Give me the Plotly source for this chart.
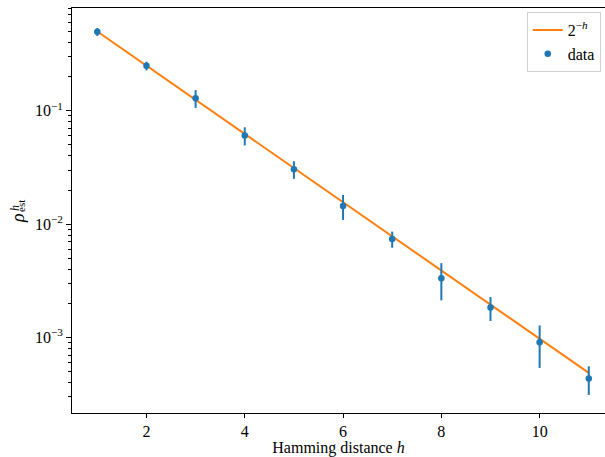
import plotly.graph_objects as go

h = [1, 2, 3, 4, 5, 6, 7, 8, 9, 10, 11]
rho_est = [0.497, 0.249, 0.129, 0.0605, 0.0305, 0.0145, 0.0074, 0.00333, 0.00184, 0.00091, 0.000435]
rho_err = [0.04, 0.022, 0.023, 0.011, 0.0054, 0.0036, 0.0012, 0.0012, 0.00044, 0.00037, 0.000123]
model = [0.5, 0.25, 0.125, 0.0625, 0.03125, 0.015625, 0.0078125, 0.00390625,
         0.001953125, 0.0009765625, 0.00048828125]

y_tickvals = [1e-3, 1e-2, 1e-1]
y_ticktext = ["10<sup>−3</sup>", "10<sup>−2</sup>", "10<sup>−1</sup>"]
x_tickvals = [2, 4, 6, 8, 10]

minor_vals = []
for dec in [1e-4, 1e-3, 1e-2, 1e-1]:
    for m in range(2, 10):
        minor_vals.append(m * dec)

C0 = "#1f77b4"
C1 = "#ff7f0e"
FONT = "Liberation Serif, Times New Roman, serif"

fig = go.Figure()
fig.add_trace(go.Scatter(
    x=h, y=model, mode="lines", name="2<sup>−<i>h</i></sup>",
    line=dict(color=C1, width=2),
))
fig.add_trace(go.Scatter(
    x=h, y=rho_est, mode="markers", name="data",
    marker=dict(color=C0, size=6.5),
    error_y=dict(type="data", array=rho_err, visible=True, color=C0, thickness=2, width=0),
))

fig.update_layout(
    width=605, height=457,
    margin=dict(l=72, r=0, t=8, b=44),
    paper_bgcolor="white", plot_bgcolor="white",
    font=dict(family=FONT, size=16, color="black"),
    showlegend=True,
    legend=dict(
        x=0.992, y=0.99, xanchor="right", yanchor="top",
        bordercolor="#d0d0d0", borderwidth=1, bgcolor="rgba(255,255,255,0.8)",
        font=dict(family=FONT, size=16), traceorder="normal",
    ),
    xaxis=dict(
        range=[0.485, 11.33], tickvals=x_tickvals, ticks="outside", ticklen=4,
        tickwidth=1, tickcolor="black", showline=True, linecolor="black", linewidth=1,
        mirror=True, showgrid=False, zeroline=False,
        title=dict(text="Hamming distance <i>h</i>", font=dict(family=FONT, size=16), standoff=2),
        tickfont=dict(family=FONT, size=16),
    ),
    yaxis=dict(
        type="log", range=[-3.665, -0.0936], tickvals=y_tickvals, ticktext=y_ticktext,
        ticks="outside", ticklen=5, tickwidth=1, tickcolor="black",
        showline=True, linecolor="black", linewidth=1, mirror=False,
        showgrid=False, zeroline=False, tickfont=dict(family=FONT, size=16),
        minor=dict(tickvals=minor_vals, ticks="outside", ticklen=3, tickwidth=1,
                   tickcolor="black", showgrid=False),
    ),
)

# y-axis label: rho with stacked superscript h and subscript est (rotated)
fig.add_annotation(text="<i>ρ</i>", xref="paper", yref="paper", x=0, y=0,
                   xshift=-66, yshift=188, showarrow=False, textangle=-90,
                   font=dict(family=FONT, size=18))
fig.add_annotation(text="est", xref="paper", yref="paper", x=0, y=0,
                   xshift=-59, yshift=199, showarrow=False, textangle=-90,
                   font=dict(family=FONT, size=11))
fig.add_annotation(text="<i>h</i>", xref="paper", yref="paper", x=0, y=0,
                   xshift=-66, yshift=200, showarrow=False, textangle=-90,
                   font=dict(family=FONT, size=12))

fig.write_html("out.html", config={"displayModeBar": False},
               post_script="document.body.style.margin='0';document.body.style.overflow='hidden';")
